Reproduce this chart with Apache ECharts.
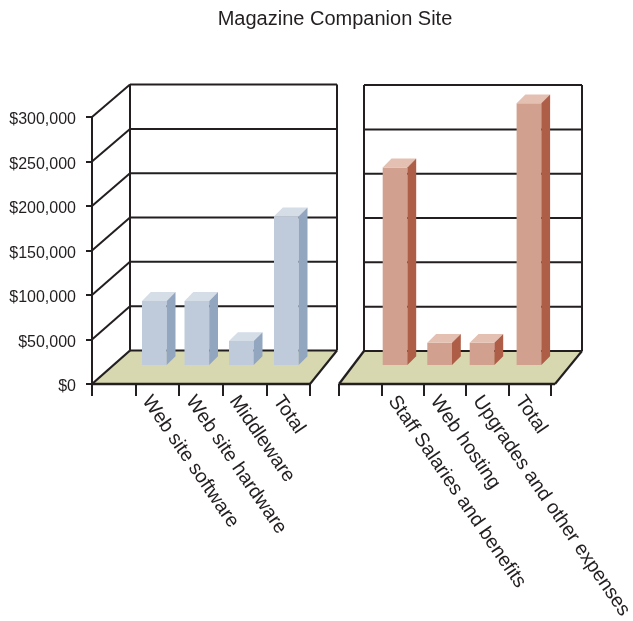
<!DOCTYPE html>
<html>
<head>
<meta charset="utf-8">
<style>html,body{margin:0;padding:0;background:#fff}#chart{width:633px;height:621px}</style>
<script src="https://cdn.jsdelivr.net/npm/echarts@6/dist/echarts.min.js"></script>
</head>
<body>
<div id="chart"></div>
<script>
// Budget figures for each half of the chart
const softwareCategories = ['Web site software', 'Web site hardware', 'Middleware', 'Total'];
const softwareCosts = [72000, 72000, 27000, 167000];
const operatingCategories = ['Staff Salaries and benefits', 'Web hosting', 'Upgrades and other expenses', 'Total'];
const operatingCosts = [222000, 25000, 25000, 294000];
const yTicks = [0, 50000, 100000, 150000, 200000, 250000, 300000];

const INK = '#231f20';
const FONT = '"Liberation Sans", Arial, sans-serif';

// Per-panel drawing settings for the faux 3D box
const panels = [
  { left: 92, width: 218, floorFront: 218, backLeft: 38, backWidth: 207, rise: -33.5, sideWall: true,
    barShift: [6.4, 5.3, 6.2, 7.6],
    front: '#bfcbdb', top: '#d5dde7', side: '#93a6bf' },
  { left: 339, width: 212, floorFront: 216, backLeft: 25, backWidth: 218, rise: -33, sideWall: false,
    barShift: [1.3, 3.5, 3.5, 8],
    front: '#d1a08f', top: '#e3c0b1', side: '#ae5d46' }
];
const BAR_W = 24.7, BAR_D = 8.8, BAR_LIFT = 19, BACK_SCALE = 0.996, STROKE = 2;

const line = (x1, y1, x2, y2, width) => ({
  type: 'line',
  shape: { x1, y1, x2, y2 },
  style: { stroke: INK, lineWidth: width || STROKE }
});
const poly = (points, fill) => ({
  type: 'polygon', shape: { points }, style: { fill, stroke: null }
});

// Floor, back wall and side wall, placed through the value scale
function frameItem(panel) {
  return function (params, api) {
    const v = api.value(0);
    const [x0, yBase] = api.coord([0, 0]);
    const [, y] = api.coord([0, v]);
    const xFront = x0 + panel.floorFront;
    const xBackL = x0 + panel.backLeft;
    const xBackR = xBackL + panel.backWidth;
    const yBack = yBase + panel.rise;
    const yWall = yBack + (y - yBase) * BACK_SCALE;
    const children = [];
    if (v === 0) {
      children.push(poly([[x0, yBase], [xFront, yBase], [xBackR, yBack], [xBackL, yBack]], '#d8d8b0'));
    }
    children.push(line(xBackL, yWall, xBackR, yWall));
    if (panel.sideWall && v !== 0) children.push(line(x0, y, xBackL, yWall));
    if (v === yTicks[yTicks.length - 1]) {
      children.push(line(xBackL, yBack, xBackL, yWall));
      children.push(line(xBackR, yBack, xBackR, yWall));
    }
    if (v === 0) {
      children.push(line(x0, yBase, xFront, yBase, 2.3));
      children.push(line(xFront, yBase, xBackR, yBack, 2.1));
      children.push(line(x0, yBase, xBackL, yBack, 2.3));
    }
    return { type: 'group', children };
  };
}

// One extruded column: front face, top face and side face
function barItem(panel) {
  return function (params, api) {
    const idx = api.value(0);
    const [x, yTop] = api.coord([idx + 1, api.value(1)]);
    const [, yZero] = api.coord([idx + 1, 0]);
    const l = x + panel.barShift[idx], r = l + BAR_W;
    const t = yTop - BAR_LIFT, b = yZero - BAR_LIFT;
    return {
      type: 'group',
      children: [
        poly([[l, b], [r, b], [r, t], [l, t]], panel.front),
        poly([[l, t], [r, t], [r + BAR_D, t - BAR_D], [l + BAR_D, t - BAR_D]], panel.top),
        poly([[r, b], [r + BAR_D, b - BAR_D], [r + BAR_D, t - BAR_D], [r, t]], panel.side)
      ]
    };
  };
}

const categoryAxis = (gridIndex, names) => ({
  type: 'category',
  gridIndex,
  boundaryGap: false,
  data: ['', ...names, ''],
  axisLine: { show: false },
  axisTick: { show: true, inside: false, length: 12, alignWithLabel: true, lineStyle: { color: INK, width: STROKE } },
  axisLabel: { rotate: -55.5, color: INK, fontFamily: FONT, fontSize: 19.6, lineHeight: 26, interval: 0, margin: 21, verticalAlign: 'bottom' },
  splitLine: { show: false }
});

const option = {
  animation: false,
  title: {
    text: 'Magazine Companion Site',
    left: 330, top: 4, textAlign: 'center',
    textStyle: { color: INK, fontFamily: FONT, fontSize: 20, fontWeight: 'normal' }
  },
  grid: panels.map(p => ({ left: p.left, width: p.width, top: 117, height: 267, outerBoundsMode: 'none' })),
  xAxis: [categoryAxis(0, softwareCategories), categoryAxis(1, operatingCategories)],
  yAxis: [
    {
      type: 'value', gridIndex: 0, min: 0, max: 300000, interval: 50000,
      axisLine: { show: true, lineStyle: { color: INK, width: STROKE } },
      axisTick: { show: true, length: 6, lineStyle: { color: INK, width: STROKE } },
      axisLabel: {
        color: INK, fontFamily: FONT, fontSize: 16, margin: 16, verticalAlign: 'top', lineHeight: 6,
        formatter: v => '$' + v.toLocaleString('en-US')
      },
      splitLine: { show: false }
    },
    { type: 'value', gridIndex: 1, min: 0, max: 300000, interval: 50000, show: false, splitLine: { show: false } }
  ],
  series: [
    { type: 'custom', xAxisIndex: 0, yAxisIndex: 0, z: 1, silent: true, renderItem: frameItem(panels[0]), data: yTicks.map(v => [v]), encode: { y: 0 }, clip: false },
    { type: 'custom', xAxisIndex: 1, yAxisIndex: 1, z: 1, silent: true, renderItem: frameItem(panels[1]), data: yTicks.map(v => [v]), encode: { y: 0 }, clip: false },
    { type: 'custom', xAxisIndex: 0, yAxisIndex: 0, z: 5, renderItem: barItem(panels[0]), data: softwareCosts.map((v, i) => [i, v]), clip: false },
    { type: 'custom', xAxisIndex: 1, yAxisIndex: 1, z: 5, renderItem: barItem(panels[1]), data: operatingCosts.map((v, i) => [i, v]), clip: false }
  ]
};

echarts.init(document.getElementById('chart'), null, { renderer: 'canvas' }).setOption(option);
</script>
</body>
</html>
